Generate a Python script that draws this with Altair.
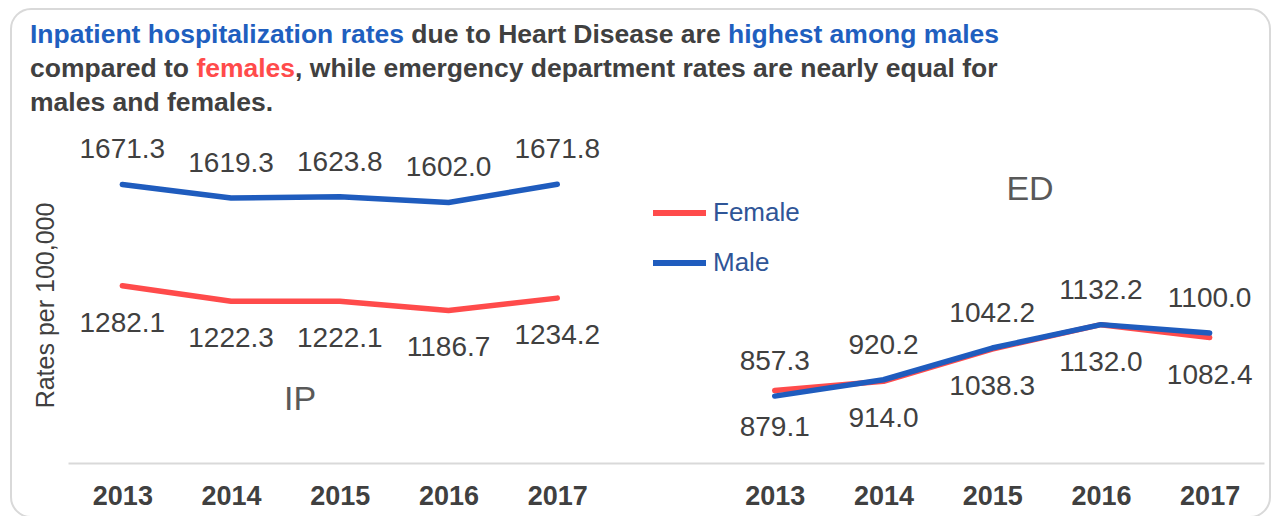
import altair as alt
import pandas as pd

# ---------------- data ----------------
years = ["2013", "2014", "2015", "2016", "2017"]
ip_male = [1671.3, 1619.3, 1623.8, 1602.0, 1671.8]
ip_female = [1282.1, 1222.3, 1222.1, 1186.7, 1234.2]
ed_male = [857.3, 920.2, 1042.2, 1132.2, 1100.0]
ed_female = [879.1, 914.0, 1038.3, 1132.0, 1082.4]
panels = ["IP", "ED"]
sexes = ["Female", "Male"]
colors = ["#FF4B4B", "#1F5CBE"]

rows = []
for panel, fem, mal in [("IP", ip_female, ip_male), ("ED", ed_female, ed_male)]:
    for yr, f, m in zip(years, fem, mal):
        rows.append({"slot": f"{panel}|{yr}", "panel": panel, "sex": "Female", "rate": f})
        rows.append({"slot": f"{panel}|{yr}", "panel": panel, "sex": "Male", "rate": m})
df = pd.DataFrame(rows)
slots = [f"IP|{y}" for y in years] + ["gap"] + [f"ED|{y}" for y in years]

FONT = "Liberation Sans"
GRAY = "#404040"
BLUE_T = "#1F5FBF"
RED_T = "#FF4B4B"

one = pd.DataFrame({"k": [0]})

x_enc = alt.X(
    "slot:N",
    scale=alt.Scale(type="point", domain=slots, padding=0.5),
    axis=alt.Axis(
        title=None,
        labelExpr="datum.value == 'gap' ? '' : split(datum.value, '|')[1]",
        labelFont=FONT, labelFontSize=27, labelFontWeight="bold",
        labelColor=GRAY, labelPadding=20, labelAngle=0,
        ticks=False, grid=False, domainColor="#D9D9D9", domainWidth=2,
    ),
)
y_enc = alt.Y(
    "rate:Q",
    scale=alt.Scale(domain=[600, 1800], zero=False, nice=False),
    axis=alt.Axis(
        title="Rates per 100,000", labels=False, ticks=False, domain=False, grid=False,
        titleFont=FONT, titleFontSize=25, titleFontWeight="normal", titleColor=GRAY,
        titleAngle=270, titleX=-23, titleY=154, titleAlign="center", titleBaseline="middle",
    ),
)

base = alt.Chart(df)

lines = base.mark_line(strokeWidth=5.5, strokeCap="round", strokeJoin="round").encode(
    x=x_enc,
    y=y_enc,
    color=alt.Color(
        "sex:N",
        scale=alt.Scale(domain=sexes, range=colors),
        legend=alt.Legend(
            title=None, orient="none", legendX=582, legendY=48,
            symbolType="stroke", symbolSize=2809, symbolStrokeWidth=6,
            labelFont=FONT, labelFontSize=26, labelColor="#2F5597",
            labelOffset=4, rowPadding=22, clipHeight=28,
        ),
    ),
    detail="panel:N",
)

male_lbl = base.transform_filter("datum.sex == 'Male'").mark_text(
    dy=-34, fontSize=28, font=FONT, color=GRAY, baseline="middle"
).encode(x=x_enc, y=y_enc, text=alt.Text("rate:Q", format=".1f"))

female_lbl = base.transform_filter("datum.sex == 'Female'").mark_text(
    dy=38, fontSize=28, font=FONT, color=GRAY, baseline="middle"
).encode(x=x_enc, y=y_enc, text=alt.Text("rate:Q", format=".1f"))

TSIZE = 26.5
TWEIGHT = "bold"


def txt(s, x, y, color, size=TSIZE, weight=TWEIGHT, align="left", baseline="alphabetic"):
    return alt.Chart(one).mark_text(
        text=s, font=FONT, fontSize=size, fontWeight=weight, color=color,
        align=align, baseline=baseline,
    ).encode(x=alt.value(x), y=alt.value(y))


def eraser(s, x, y):
    return alt.Chart(one).mark_text(
        text=s, font=FONT, fontSize=TSIZE, fontWeight=TWEIGHT, color="white",
        stroke="white", strokeWidth=2.2, align="left", baseline="alphabetic",
    ).encode(x=alt.value(x), y=alt.value(y))


l1a = "Inpatient hospitalization rates"
l1b = " due to Heart Disease are"
l1c = " highest among males"
l2a = "compared to"
l2b = " females"
l2c = ", while emergency department rates are nearly equal for"
l3 = "males and females."

tx = -38
title_layers = [
    txt(l1a + l1b + l1c, tx, -108, BLUE_T),
    eraser(l1a + l1b, tx, -108),
    txt(l1a + l1b, tx, -108, GRAY),
    eraser(l1a, tx, -108),
    txt(l1a, tx, -108, BLUE_T),
    txt(l2a + l2b + l2c, tx, -74, GRAY),
    eraser(l2a + l2b, tx, -74),
    txt(l2a + l2b, tx, -74, RED_T),
    eraser(l2a, tx, -74),
    txt(l2a, tx, -74, GRAY),
    txt(l3, tx, -40, GRAY),
]

ip_lbl = txt("IP", 232, 259, "#595959", size=34, weight="normal", align="center")
ed_lbl = txt("ED", 962, 49, "#595959", size=34, weight="normal", align="center")

border = alt.Chart(one).mark_rect(
    fillOpacity=0, stroke="#D9D9D9", strokeWidth=2, cornerRadius=20
).encode(x=alt.value(-57), x2=alt.value(1202), y=alt.value(-142), y2=alt.value(366))

chart = alt.layer(
    border, lines, male_lbl, female_lbl, ip_lbl, ed_lbl, *title_layers
).properties(
    width=1196, height=312,
    padding={"left": 60, "top": 143, "right": 8, "bottom": 53},
    autosize=alt.AutoSizeParams(type="none"),
    background="white",
).configure_view(strokeWidth=0)

chart.save("out.html", embed_options={"renderer": "svg", "actions": False})
